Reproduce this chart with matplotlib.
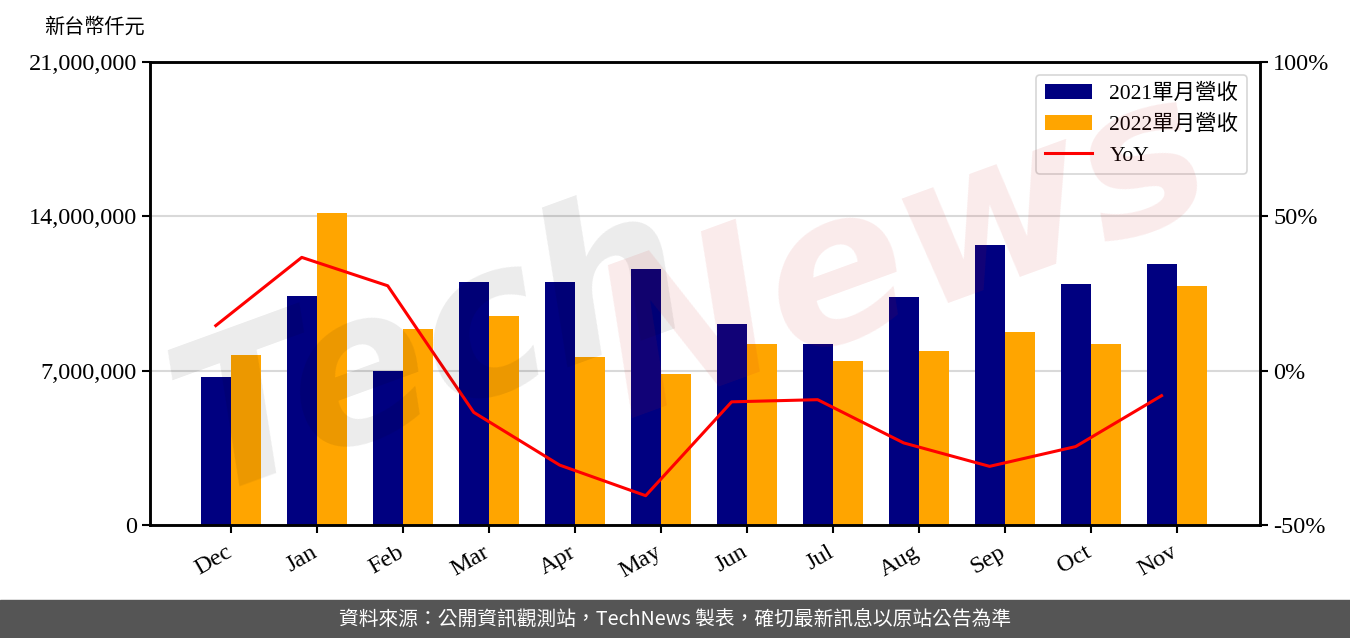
import matplotlib
matplotlib.use("Agg")
import matplotlib.pyplot as plt
import matplotlib.transforms as mtransforms
import numpy as np

# monthly revenue in NT$ thousands
months = ["Dec", "Jan", "Feb", "Mar", "Apr", "May", "Jun", "Jul", "Aug", "Sep", "Oct", "Nov"]
rev_2021 = [6720000, 10370000, 6990000, 11000000, 11000000, 11590000,
            9110000, 8210000, 10330000, 12720000, 10920000, 11820000]
rev_2022 = [7710000, 14160000, 8890000, 9470000, 7620000, 6850000,
            8210000, 7440000, 7890000, 8750000, 8210000, 10820000]
# YoY in percent
yoy = [14.6, 36.7, 27.5, -13.5, -30.6, -40.5, -10.1, -9.4, -23.4, -31.0, -24.6, -8.1]

serif = ["Liberation Serif", "Noto Sans CJK TC"]
plt.rcParams["font.family"] = serif

fig = plt.figure(figsize=(13.5, 6.38), dpi=100)
ax = fig.add_axes([150 / 1350, 1 - 525 / 638, 1110 / 1350, 463 / 638])
ax2 = ax.twinx()

x = np.arange(len(months))
w = 0.35
b1 = ax.bar(x - w / 2, rev_2021, w, color="#000080", label="2021單月營收", zorder=2)
b2 = ax.bar(x + w / 2, rev_2022, w, color="#ffa500", label="2022單月營收", zorder=2)
ln, = ax2.plot(x - w / 2, yoy, color="red", lw=2.2, label="YoY")

ax.set_xlim(-0.94, 11.97)
ax.set_ylim(0, 21000000)
ax.set_yticks([0, 7000000, 14000000, 21000000])
ax.set_yticklabels(["0", "7,000,000", "14,000,000", "21,000,000"])
ax.yaxis.grid(True, color="#d9d9d9", lw=1.5, zorder=0)
ax.set_axisbelow(True)
ax.set_xticks(x)
ax.set_xticklabels(months, rotation=30, ha="right", rotation_mode="anchor")
ax.tick_params(axis="both", labelsize=17.5, length=6, width=1.5)
ax.tick_params(axis="x", pad=6)
# nudge month labels a little to the left, like the original
shift = mtransforms.ScaledTranslation(-6 / 100, 0, fig.dpi_scale_trans)
for lbl in ax.get_xticklabels():
    lbl.set_transform(lbl.get_transform() + shift)

ax2.set_ylim(-50, 100)
ax2.set_yticks([-50, 0, 50, 100])
ax2.set_yticklabels(["-50%", "0%", "50%", "100%"])
ax2.tick_params(axis="y", labelsize=17.5, length=6, width=1.5)

for a in (ax, ax2):
    for s in a.spines.values():
        s.set_linewidth(1.8)

ax.text(-0.050, 1.073, "新台幣仟元", transform=ax.transAxes, fontsize=14.5,
        ha="center", va="center", family=serif)

leg = ax.legend([b1, b2, ln], ["2021單月營收", "2022單月營收", "YoY"],
                loc="upper right", frameon=True,
                prop={"family": serif, "size": 15.5}, borderaxespad=0.6,
                handlelength=2.2)
leg.get_frame().set_edgecolor("#cccccc")
leg.get_frame().set_linewidth(1.2)

# watermark
fig.text(0.32, 0.45, "Tech", fontsize=150, color="black", alpha=0.08,
         rotation=20, ha="center", va="center", style="italic", weight="bold",
         family="DejaVu Sans")
fig.text(0.67, 0.60, "News", fontsize=150, color="#d02020", alpha=0.09,
         rotation=20, ha="center", va="center", style="italic", weight="bold",
         family="DejaVu Sans")

# footer band
fig.patches.append(plt.Rectangle((0, 0), 1, 38 / 638, transform=fig.transFigure,
                                 color="#555555", zorder=0))
fig.text(0.5, 19 / 638, "資料來源：公開資訊觀測站，TechNews 製表，確切最新訊息以原站公告為準",
         color="white", fontsize=14.2, ha="center", va="center",
         family=["Noto Sans CJK TC", "DejaVu Sans"])

fig.savefig("out.png", dpi=100)
